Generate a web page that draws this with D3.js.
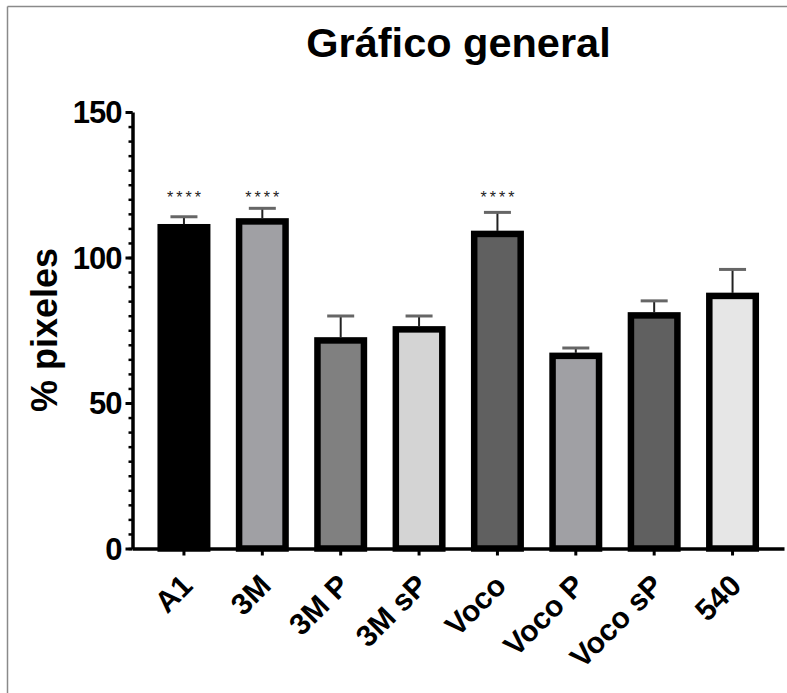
<!DOCTYPE html>
<html>
<head>
<meta charset="utf-8">
<script src="https://cdn.jsdelivr.net/npm/d3@7"></script>
<style>
  html, body { margin: 0; padding: 0; background: #fff; }
  svg { display: block; font-family: "Liberation Sans", Arial, sans-serif; }
</style>
</head>
<body>
<svg id="chart" width="787" height="693"></svg>
<script>
// ---- data ----
const categories = ["A1", "3M", "3M P", "3M sP", "Voco", "Voco P", "Voco sP", "540"];
const means      = [110.4, 112.4, 71.5, 75.3, 108.1, 66.2, 80.1, 86.8];
const errors     = [3.6, 4.5, 8.4, 4.6, 7.4, 2.7, 5.0, 9.1];
const fills      = ["#000000", "#a0a0a4", "#808080", "#d4d4d4", "#606060", "#a0a0a4", "#606060", "#e6e6e6"];
const signif     = ["****", "****", "", "", "****", "", "", ""];
const majorTicks = [0, 50, 100, 150];
const minorTicks = d3.range(0, 151, 5);

const svg = d3.select("#chart");

// frame (cropped border of the original picture)
svg.append("line").attr("x1", 7.5).attr("x2", 787).attr("y1", 6.5).attr("y2", 6.5)
  .attr("stroke", "#8a8a8a").attr("stroke-width", 1.5);
svg.append("line").attr("x1", 7.5).attr("x2", 7.5).attr("y1", 6.5).attr("y2", 693)
  .attr("stroke", "#8a8a8a").attr("stroke-width", 1.5);

const y = d3.scaleLinear().domain([0, 150]).range([548.5, 112]);
const x = d3.scaleBand().domain(categories)
  .range([132.5, 784]).paddingInner(0.407).paddingOuter(0.36);

// bars
const g = svg.append("g");
g.selectAll("rect.bar").data(categories).join("rect")
  .attr("class", "bar")
  .attr("x", d => x(d))
  .attr("width", x.bandwidth())
  .attr("y", (d, i) => y(means[i]))
  .attr("height", (d, i) => y(0) - y(means[i]))
  .attr("fill", (d, i) => fills[i])
  .attr("stroke", "#000")
  .attr("stroke-width", 6.5);

// error bars (upper only)
const cx = d => x(d) + x.bandwidth() / 2;
g.selectAll("line.stem").data(categories).join("line")
  .attr("x1", cx).attr("x2", cx)
  .attr("y1", (d, i) => y(means[i]) - 3)
  .attr("y2", (d, i) => y(means[i] + errors[i]))
  .attr("stroke", "#222").attr("stroke-width", 2);
g.selectAll("line.cap").data(categories).join("line")
  .attr("x1", d => cx(d) - 13.5).attr("x2", d => cx(d) + 13.5)
  .attr("y1", (d, i) => y(means[i] + errors[i]))
  .attr("y2", (d, i) => y(means[i] + errors[i]))
  .attr("stroke", "#666").attr("stroke-width", 3);

// significance stars
g.selectAll("text.sig").data(categories).join("text")
  .attr("x", d => cx(d) + 1.5)
  .attr("y", 203)
  .attr("text-anchor", "middle")
  .attr("font-size", 16)
  .attr("letter-spacing", 3)
  .attr("fill", "#222")
  .text((d, i) => signif[i]);

// y axis
const yAxisMinor = svg.append("g").attr("transform", "translate(132.5,0)")
  .call(d3.axisLeft(y).tickValues(minorTicks).tickSize(4).tickFormat(""));
yAxisMinor.select(".domain").remove();
yAxisMinor.selectAll(".tick line").attr("stroke-width", 2.5).attr("stroke", "#000");

const yAxis = svg.append("g").attr("transform", "translate(132.5,0)")
  .call(d3.axisLeft(y).tickValues(majorTicks).tickSize(7).tickSizeOuter(0).tickPadding(4));
yAxis.select(".domain").attr("stroke-width", 3.5).attr("stroke", "#000");
yAxis.selectAll(".tick line").attr("stroke-width", 3).attr("stroke", "#000");
yAxis.selectAll(".tick text")
  .attr("font-size", 31).attr("font-weight", "bold").attr("fill", "#000")
  .attr("font-family", "'Liberation Sans', Arial, sans-serif")
  .attr("dy", "0.34em").attr("letter-spacing", -1);

// x axis
const xAxis = svg.append("g").attr("transform", `translate(0,${y(0)})`)
  .call(d3.axisBottom(x).tickSize(7).tickSizeOuter(0).tickFormat(""));
xAxis.select(".domain").attr("stroke-width", 3.5).attr("stroke", "#000");
xAxis.selectAll(".tick line").attr("stroke-width", 3).attr("stroke", "#000");

svg.append("g").selectAll("text.xl").data(categories).join("text")
  .attr("transform", d => `translate(${cx(d) + 3},${580}) rotate(-45)`)
  .attr("text-anchor", "end")
  .attr("dy", "0.35em")
  .attr("font-size", 30)
  .attr("font-weight", "bold")
  .attr("fill", "#000")
  .text(d => d);

// title
svg.append("text").attr("x", 458.5).attr("y", 57)
  .attr("text-anchor", "middle").attr("font-size", 41.5).attr("font-weight", "bold")
  .attr("fill", "#000").text("Gráfico general");

// y label
svg.append("text").attr("transform", "translate(57,330) rotate(-90)")
  .attr("text-anchor", "middle").attr("font-size", 36).attr("font-weight", "bold")
  .attr("fill", "#000").text("% pixeles");
</script>
</body>
</html>
